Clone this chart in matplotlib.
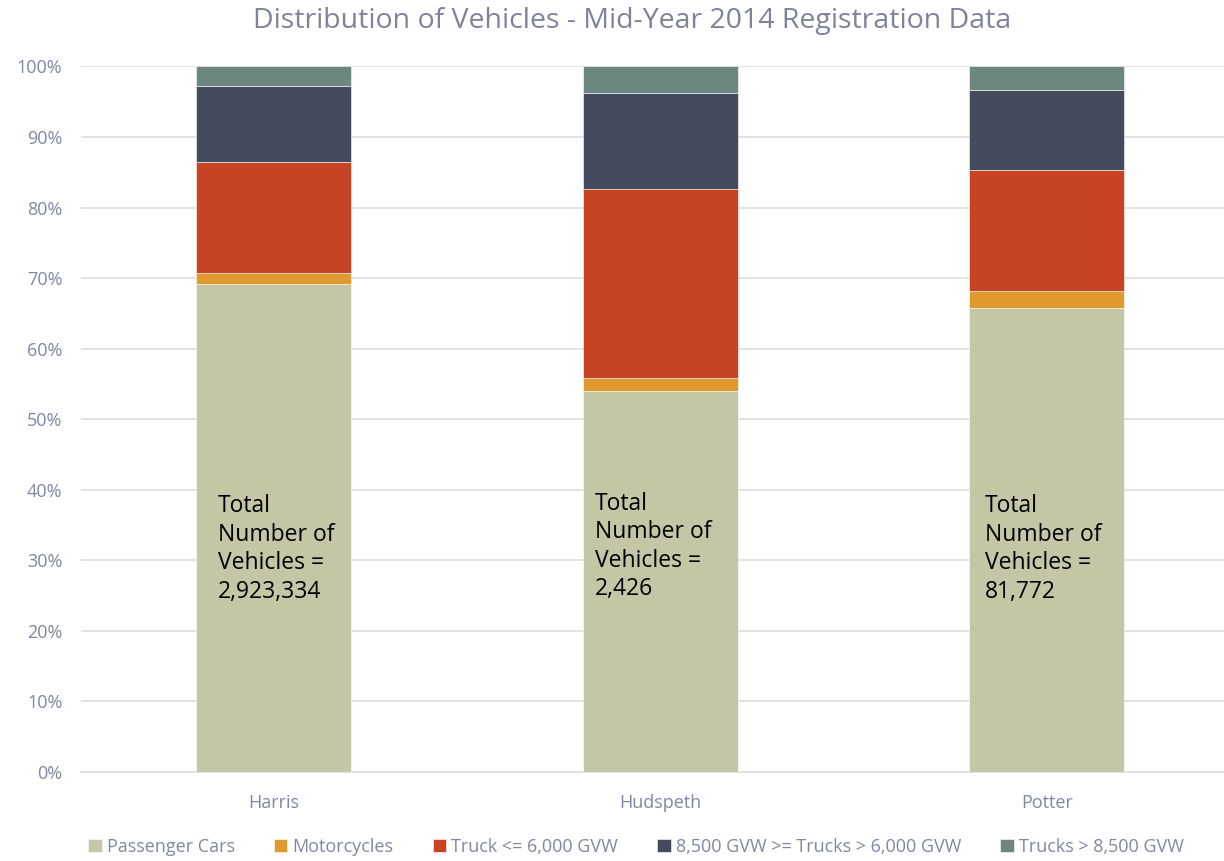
import matplotlib
matplotlib.use("Agg")
import matplotlib.pyplot as plt
import numpy as np

plt.rcParams['font.family'] = ['Open Sans', 'DejaVu Sans']

counties = ["Harris", "Hudspeth", "Potter"]
series_names = ["Passenger Cars", "Motorcycles", "Truck <= 6,000 GVW",
                "8,500 GVW >= Trucks > 6,000 GVW", "Trucks > 8,500 GVW"]
passenger_cars = [69.1, 54.0, 65.8]
motorcycles = [1.6, 1.9, 2.4]
trucks_le_6000 = [15.7, 26.8, 17.1]
trucks_6000_8500 = [10.8, 13.5, 11.3]
trucks_gt_8500 = [2.8, 3.8, 3.4]
totals = ["2,923,334", "2,426", "81,772"]
y_ticks = [0, 10, 20, 30, 40, 50, 60, 70, 80, 90, 100]

colors = ["#c4c6a6", "#e0992e", "#c84224", "#444b5c", "#6b8780"]
series = [passenger_cars, motorcycles, trucks_le_6000, trucks_6000_8500, trucks_gt_8500]

fig = plt.figure(figsize=(12.24, 8.61), dpi=100)
ax = fig.add_axes([80.5/1224, 1 - 772/861, 1159.5/1224, (772 - 66.5)/861])

x = np.arange(len(counties))
bottom = np.zeros(len(counties))
handles = []
for vals, col, name in zip(series, colors, series_names):
    b = ax.bar(x, vals, width=0.4, bottom=bottom, color=col, label=name,
               edgecolor='white', linewidth=0.4, zorder=3)
    handles.append(b)
    bottom += np.array(vals)

ax.set_xlim(-0.5, 2.5)
ax.set_ylim(0, 100)
ax.set_yticks(y_ticks)
ax.set_yticklabels([f"{v}%" for v in y_ticks])
ax.set_xticks(x)
ax.set_xticklabels(counties)
tick_col = "#8088a0"
ax.tick_params(axis='both', length=0, labelsize=13, labelcolor=tick_col)
ax.tick_params(axis='x', pad=16)
ax.tick_params(axis='y', pad=13)
ax.grid(axis='y', color='#dcdce2', linewidth=1.2, zorder=0)
for s in ['top', 'right', 'left']:
    ax.spines[s].set_visible(False)
ax.spines['bottom'].set_color('#dcdce2')
ax.spines['bottom'].set_linewidth(1.2)

text_dx = [0.055, 0.031, 0.039]
text_top = [39.4, 39.7, 39.4]
for i, t in enumerate(totals):
    ax.text(i - 0.2 + text_dx[i], text_top[i], f"Total\nNumber of\nVehicles =\n{t}",
            ha='left', va='top', fontsize=16.5, color='black', linespacing=1.25, zorder=5)

fig.text(632/1224, 1 - 21/861, "Distribution of Vehicles - Mid-Year 2014 Registration Data",
         ha='center', va='center', fontsize=20.5, color='#7f8399')

fig.legend(handles=handles, labels=series_names, loc='center', ncol=5,
           bbox_to_anchor=(636/1224, 1 - 847/861), frameon=False,
           fontsize=13, labelcolor=tick_col, handlelength=0.75, handleheight=0.75,
           handletextpad=0.3, columnspacing=2.15)

fig.savefig("out.png", dpi=100)
